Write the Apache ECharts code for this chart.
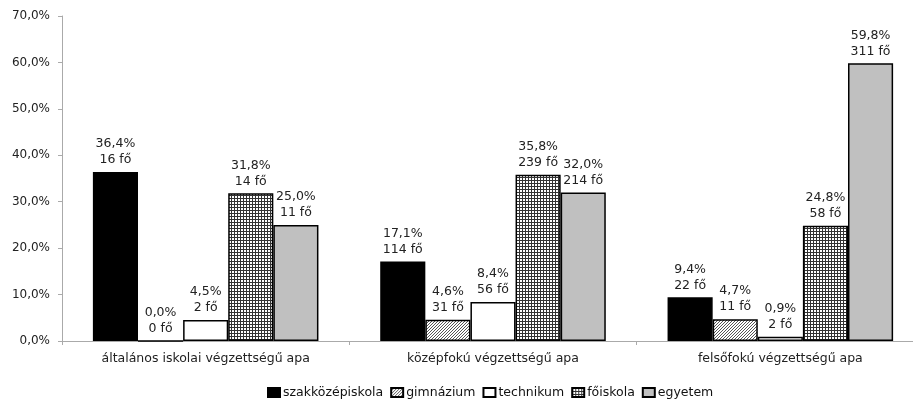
<!DOCTYPE html>
<html><head><meta charset="utf-8">
<script src="https://cdn.jsdelivr.net/npm/echarts@6/dist/echarts.min.js"></script>
<style>html,body{margin:0;padding:0;background:#fff;overflow:hidden}#c{width:924px;height:400px}</style>
</head><body><div id="c"></div>
<script>
var categories = ['általános iskolai végzettségű apa', 'középfokú végzettségű apa', 'felsőfokú végzettségű apa'];
var seriesNames = ['szakközépiskola', 'gimnázium', 'technikum', 'főiskola', 'egyetem'];
var szakkozepPct = [36.4, 17.1, 9.4];
var szakkozepFo = [16, 114, 22];
var gimnaziumPct = [0.0, 4.6, 4.7];
var gimnaziumFo = [0, 31, 11];
var technikumPct = [4.5, 8.4, 0.9];
var technikumFo = [2, 56, 2];
var foiskolaPct = [31.8, 35.8, 24.8];
var foiskolaFo = [14, 239, 58];
var egyetemPct = [25.0, 32.0, 59.8];
var egyetemFo = [11, 214, 311];
var yTicks = [0, 10, 20, 30, 40, 50, 60, 70];

var FONT = 'DejaVu Sans, Verdana, sans-serif';

function hatch() {
  var c = document.createElement('canvas'); c.width = 3; c.height = 3;
  var g = c.getContext('2d');
  g.fillStyle = '#fff'; g.fillRect(0, 0, 3, 3);
  g.strokeStyle = '#555'; g.lineWidth = 1;
  g.beginPath();
  g.moveTo(0, 3); g.lineTo(3, 0);
  g.moveTo(-1, 1); g.lineTo(1, -1);
  g.moveTo(2, 4); g.lineTo(4, 2);
  g.stroke();
  return c;
}
function gridPat() {
  var c = document.createElement('canvas'); c.width = 3; c.height = 3;
  var g = c.getContext('2d');
  g.fillStyle = '#fff'; g.fillRect(0, 0, 3, 3);
  g.fillStyle = '#333';
  g.fillRect(0, 0, 3, 1); g.fillRect(0, 0, 1, 3);
  return c;
}
var fills = ['#000', {image: hatch(), repeat: 'repeat'}, '#fff', {image: gridPat(), repeat: 'repeat'}, '#c0c0c0'];
var pcts = [szakkozepPct, gimnaziumPct, technikumPct, foiskolaPct, egyetemPct];
var fos = [szakkozepFo, gimnaziumFo, technikumFo, foiskolaFo, egyetemFo];

function fmt(v) { return v.toFixed(1).replace('.', ',') + '%'; }

var series = seriesNames.map(function (n, i) {
  return {
    name: n, type: 'bar', barGap: '0%', barCategoryGap: '21.5%',
    data: pcts[i].map(function (v, j) { return {value: v, fo: fos[i][j]}; }),
    itemStyle: {color: fills[i], borderColor: '#000', borderWidth: 1.5},
    label: {
      show: true, position: 'top', distance: 4,
      color: '#222', fontSize: 12.5, lineHeight: 16, fontFamily: FONT,
      formatter: function (p) { return fmt(p.value) + '\n' + p.data.fo + ' fő'; }
    }
  };
});

var chart = echarts.init(document.getElementById('c'), null, {renderer: 'canvas'});
chart.setOption({
  animation: false,
  textStyle: {fontFamily: FONT},
  grid: {left: 62, top: 16, bottom: 59, right: 0},
  legend: {
    top: 381, left: 262, itemWidth: 12, itemHeight: 9, itemGap: 7, icon: 'rect',
    textStyle: {fontSize: 12.5, color: '#111', fontFamily: FONT, padding: [0, 0, 0, -2]},
    data: seriesNames
  },
  xAxis: {
    type: 'category', data: categories,
    axisLine: {lineStyle: {color: '#aaa'}},
    axisTick: {show: true, length: 4, lineStyle: {color: '#aaa'}},
    axisLabel: {fontSize: 12.5, color: '#222', margin: 11, fontFamily: FONT}
  },
  yAxis: {
    type: 'value', min: 0, max: 70, interval: 10,
    axisLine: {show: true, lineStyle: {color: '#aaa'}},
    axisTick: {show: true, length: 4, lineStyle: {color: '#aaa'}},
    splitLine: {show: false},
    axisLabel: {fontSize: 12, color: '#222', margin: 12, fontFamily: FONT,
      formatter: function (v) { return yTicks.indexOf(v) >= 0 ? fmt(v) : ''; }}
  },
  series: series
});
</script></body></html>
